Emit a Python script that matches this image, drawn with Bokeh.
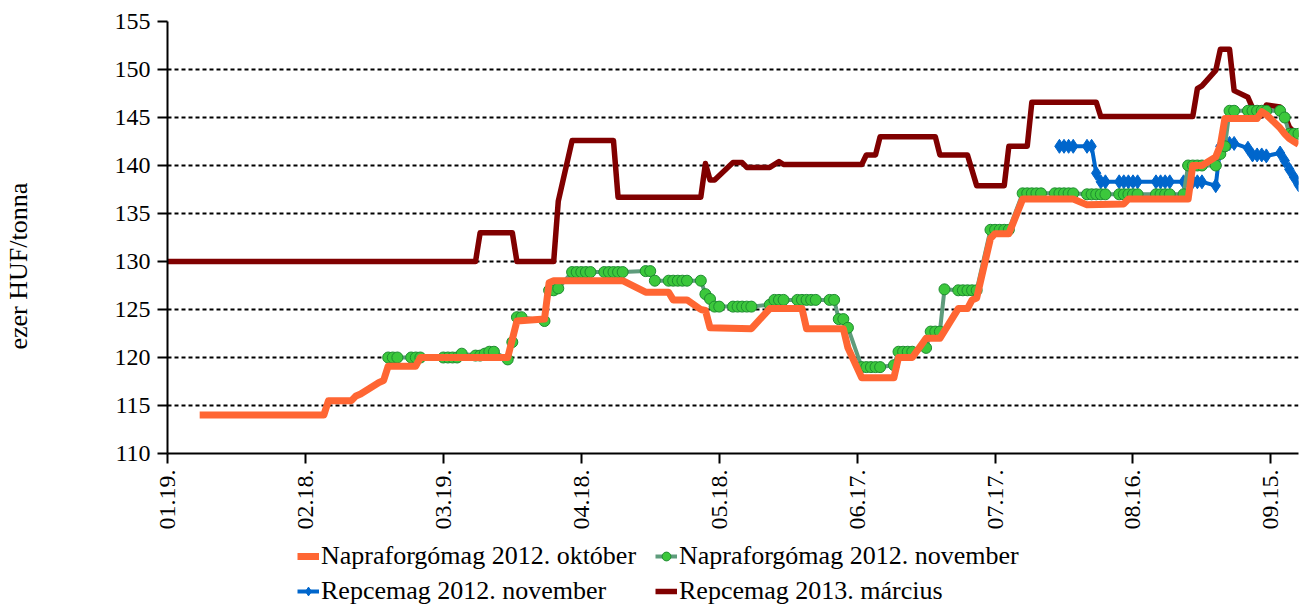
from math import pi
import pandas as pd
from bokeh.plotting import figure
from bokeh.layouts import row, column
from bokeh.models import Range1d, FixedTicker, Legend, LegendItem, Label
from bokeh.embed import file_html
from bokeh.resources import INLINE

YEAR = "2012-"

# ---------------- data ----------------
tick_dates = ["01-19", "02-18", "03-19", "04-18", "05-18", "06-17", "07-17", "08-16", "09-15"]
tick_labels = ["01.19.", "02.18.", "03.19.", "04.18.", "05.18.", "06.17.", "07.17.", "08.16.", "09.15."]
y_ticks = [110, 115, 120, 125, 130, 135, 140, 145, 150, 155]
y_title = "ezer HUF/tonna"

series_names = ["Napraforgómag 2012. október", "Napraforgómag 2012. november",
                "Repcemag 2012. november", "Repcemag 2013. március"]

orange_dates = ["01-26", "02-22", "02-23", "02-28", "02-29", "03-01", "03-05", "03-06", "03-07",
                "03-13", "03-14", "04-02", "04-04", "04-10", "04-11", "04-12", "04-27", "05-02",
                "05-07", "05-08", "05-11", "05-14", "05-15", "05-16", "05-25", "05-29", "06-05",
                "06-06", "06-14", "06-15", "06-18", "06-25", "06-26", "06-29", "07-02", "07-05",
                "07-09", "07-11", "07-12", "07-13", "07-16", "07-17", "07-20", "07-23", "08-03",
                "08-06", "08-14", "08-15", "08-28", "08-29", "08-31", "09-03", "09-04", "09-05",
                "09-12", "09-13", "09-14", "09-17", "09-18", "09-19", "09-20", "09-21"]
orange_values = [114.0, 114.0, 115.5, 115.5, 116.0, 116.2, 117.4, 117.6, 119.1,
                 119.1, 120.0, 120.0, 123.8, 124.0, 127.8, 128.0, 128.0, 126.8,
                 126.8, 126.0, 126.0, 125.0, 124.9, 123.1, 123.0, 125.1, 125.1,
                 123.0, 123.0, 121.0, 117.9, 117.9, 120.0, 120.0, 122.0, 122.0,
                 125.1, 125.1, 126.0, 126.2, 132.4, 132.9, 132.9, 136.5, 136.5,
                 135.9, 136.0, 136.5, 136.5, 140.0, 140.0, 140.9, 142.1, 144.9,
                 144.9, 145.6, 145.3, 143.9, 143.3, 142.8, 142.5, 142.2]

green_dates = ["03-07", "03-08", "03-09",
               "03-12", "03-13", "03-14",
               "03-19", "03-20", "03-21", "03-22", "03-23",
               "03-26", "03-27", "03-28", "03-29", "03-30",
               "04-02", "04-03", "04-04", "04-05",
               "04-10", "04-11", "04-12", "04-13",
               "04-16", "04-17", "04-18", "04-19", "04-20",
               "04-23", "04-24", "04-25", "04-26", "04-27",
               "05-02", "05-03", "05-04",
               "05-07", "05-08", "05-09", "05-10", "05-11",
               "05-14", "05-15", "05-16", "05-17", "05-18",
               "05-21", "05-22", "05-23", "05-24", "05-25",
               "05-29", "05-30", "05-31", "06-01",
               "06-04", "06-05", "06-06", "06-07", "06-08",
               "06-11", "06-12", "06-13", "06-14", "06-15",
               "06-18", "06-19", "06-20", "06-21", "06-22",
               "06-25", "06-26", "06-27", "06-28", "06-29",
               "07-02", "07-03", "07-04", "07-05", "07-06",
               "07-09", "07-10", "07-11", "07-12", "07-13",
               "07-16", "07-17", "07-18", "07-19", "07-20",
               "07-23", "07-24", "07-25", "07-26", "07-27",
               "07-30", "07-31", "08-01", "08-02", "08-03",
               "08-06", "08-07", "08-08", "08-09", "08-10",
               "08-13", "08-14", "08-15", "08-16", "08-17",
               "08-21", "08-22", "08-23", "08-24",
               "08-27", "08-28", "08-29", "08-30", "08-31",
               "09-03", "09-04", "09-05", "09-06", "09-07",
               "09-10", "09-11", "09-12", "09-13", "09-14",
               "09-17", "09-18", "09-19", "09-20", "09-21"]
green_values = [120.0, 120.0, 120.0,
                120.0, 120.0, 120.0,
                120.0, 120.0, 120.0, 120.0, 120.4,
                120.2, 120.2, 120.4, 120.6, 120.6,
                119.8, 121.6, 124.2, 124.2,
                123.8, 127.0, 127.0, 127.2,
                128.9, 128.9, 128.9, 128.9, 128.9,
                128.9, 128.9, 128.9, 128.9, 128.9,
                129.0, 129.0, 128.0,
                128.0, 128.0, 128.0, 128.0, 128.0,
                128.0, 126.6, 126.1, 125.3, 125.3,
                125.3, 125.3, 125.3, 125.3, 125.3,
                125.5, 126.0, 126.0, 126.0,
                126.0, 126.0, 126.0, 126.0, 126.0,
                126.0, 126.0, 124.0, 124.0, 123.1,
                119.0, 119.0, 119.0, 119.0, 119.0,
                119.2, 120.6, 120.6, 120.6, 120.6,
                121.0, 122.7, 122.7, 122.7, 127.1,
                127.0, 127.0, 127.0, 127.0, 127.0,
                133.3, 133.3, 133.3, 133.3, 133.3,
                137.1, 137.1, 137.1, 137.1, 137.1,
                137.1, 137.1, 137.1, 137.1, 137.1,
                137.0, 137.0, 137.0, 137.0, 137.0,
                137.0, 137.0, 137.0, 137.0, 137.0,
                137.0, 137.0, 137.0, 137.0,
                137.0, 140.0, 140.0, 140.0, 140.0,
                140.0, 141.2, 142.0, 145.7, 145.7,
                145.7, 145.7, 145.7, 145.7, 145.7,
                145.7, 145.0, 143.3, 143.3, 143.3]

blue_dates = ["07-31", "08-01", "08-02", "08-03",
              "08-06", "08-07", "08-08", "08-09", "08-10",
              "08-13", "08-14", "08-15", "08-16", "08-17",
              "08-21", "08-22", "08-23", "08-24",
              "08-27", "08-28", "08-29", "08-30", "08-31",
              "09-03", "09-04", "09-05", "09-06", "09-07",
              "09-10", "09-11", "09-12", "09-13", "09-14",
              "09-17", "09-18", "09-19", "09-20", "09-21"]
blue_values = [142.0, 142.0, 142.0, 142.0,
               142.0, 142.0, 139.2, 138.3, 138.3,
               138.3, 138.3, 138.3, 138.3, 138.3,
               138.3, 138.3, 138.3, 138.3,
               138.3, 138.3, 138.3, 138.3, 138.3,
               137.9, 142.0, 142.3, 142.3, 142.3,
               141.8, 141.1, 141.1, 141.1, 141.0,
               141.3, 140.5, 139.6, 138.8, 138.0]

red_dates = ["01-19", "03-26", "03-27", "04-03", "04-04", "04-12", "04-13", "04-16", "04-25",
             "04-26", "05-14", "05-15", "05-16", "05-17", "05-21", "05-23", "05-24", "05-29",
             "05-31", "06-01", "06-18", "06-19", "06-21", "06-22", "07-04", "07-05", "07-11",
             "07-13", "07-19", "07-20", "07-24", "07-25", "08-08", "08-09", "08-29", "08-30",
             "08-31", "09-03", "09-04", "09-06", "09-07", "09-10", "09-11", "09-12", "09-13",
             "09-14", "09-17", "09-18", "09-19", "09-20", "09-21"]
red_values = [130.0, 130.0, 133.0, 133.0, 130.0, 130.0, 136.3, 142.6, 142.6,
              136.7, 136.7, 140.2, 138.5, 138.5, 140.3, 140.3, 139.8, 139.8,
              140.4, 140.1, 140.1, 141.1, 141.1, 143.0, 143.0, 141.1, 141.1,
              137.9, 137.9, 142.0, 142.0, 146.6, 146.6, 145.1, 145.1, 148.0,
              148.3, 149.9, 152.1, 152.1, 147.8, 147.1, 146.0, 145.0, 145.2,
              146.3, 146.1, 145.2, 144.0, 143.5, 143.0]

x_start, x_end = "01-19", "09-21"


def to_dt(lst):
    return pd.to_datetime([YEAR + d for d in lst])


# ---------------- layout sizes ----------------
FONT = "Liberation Serif"
W, H = 1300, 605
W0 = 45                 # column holding the y-axis title
H1 = 535                # height of the chart row
H2 = H - H1             # height of the legend strip

COLORS = dict(orange="#ff6633", green_line="#5e9c7c", green_fill="#3cc83c", green_edge="#1e8c30",
              blue="#0066cc", red="#800000")

series = {
    "orange": (to_dt(orange_dates), orange_values),
    "green": (to_dt(green_dates), green_values),
    "blue": (to_dt(blue_dates), blue_values),
    "red": (to_dt(red_dates), red_values),
}

# ---------------- main chart ----------------
xs = pd.Timestamp(YEAR + x_start)
xe = pd.Timestamp(YEAR + x_end)

p = figure(width=W - W0, height=H1, x_axis_type="datetime",
           x_range=Range1d(xs, xe), y_range=Range1d(110, 155),
           output_backend="svg", toolbar_location=None,
           min_border_left=167 - W0, min_border_right=2, min_border_top=21,
           min_border_bottom=H1 - 453)
p.outline_line_color = None
p.background_fill_color = "white"
p.border_fill_color = "white"

p.xgrid.grid_line_color = None
p.ygrid.grid_line_color = "black"
p.ygrid.grid_line_dash = "4 3"
p.ygrid.grid_line_width = 2

tick_ms = [float(t.value // 10**6) for t in to_dt(tick_dates)]
p.xaxis.ticker = FixedTicker(ticks=tick_ms)
p.xaxis.major_label_overrides = {k: v for k, v in zip(tick_ms, tick_labels)}
p.xaxis.major_label_orientation = pi / 2
p.yaxis.ticker = FixedTicker(ticks=y_ticks)
for ax in (p.xaxis[0], p.yaxis[0]):
    ax.axis_line_color = "black"
    ax.axis_line_width = 2
    ax.major_tick_line_color = "black"
    ax.major_tick_line_width = 2
    ax.major_tick_out = 10
    ax.major_tick_in = 0
    ax.minor_tick_line_color = None
    ax.major_label_text_font = FONT
    ax.major_label_text_font_size = "24px"
    ax.major_label_text_color = "black"
p.xaxis.major_label_standoff = 6
p.yaxis.major_label_standoff = 7


def draw(fig, kind):
    """Draw one series from its data arrays; kind picks the style."""
    xd, yd = series[kind]
    if kind == "red":
        return [fig.line(xd, yd, line_color=COLORS["red"], line_width=5.5, line_join="round")]
    if kind == "blue":
        return [fig.line(xd, yd, line_color=COLORS["blue"], line_width=4),
                fig.scatter(xd, yd, marker="diamond", size=14,
                            fill_color=COLORS["blue"], line_color=COLORS["blue"])]
    if kind == "green":
        return [fig.line(xd, yd, line_color=COLORS["green_line"], line_width=4),
                fig.scatter(xd, yd, marker="circle", size=11, fill_color=COLORS["green_fill"],
                            line_color=COLORS["green_edge"], line_width=1)]
    return [fig.line(xd, yd, line_color=COLORS["orange"], line_width=7, line_join="round")]


for kind in ("red", "blue", "green", "orange"):
    draw(p, kind)

# ---------------- y-axis title column ----------------
t = figure(width=W0, height=H1, x_range=Range1d(0, W0), y_range=Range1d(0, H1),
           x_axis_location=None, y_axis_location=None, output_backend="svg",
           toolbar_location=None, min_border=0)
t.outline_line_color = None
t.grid.visible = False
t.add_layout(Label(x=18, y=H1 - 303, text=y_title, angle=pi / 2,
                   text_align="center", text_baseline="middle", text_font=FONT,
                   text_font_size="26px", text_color="black"))

# ---------------- legend strip (its renderers lie outside its visible range) ----------------
lg = figure(width=W, height=H2, x_range=Range1d(0, 1), y_range=Range1d(0, 1),
            x_axis_location=None, y_axis_location=None, output_backend="svg",
            toolbar_location=None, min_border=0)
lg.outline_line_color = None
lg.grid.visible = False
sample = {k: draw(lg, k) for k in ("orange", "green", "blue", "red")}

legend_style = dict(orientation="horizontal",
                    label_text_font=FONT, label_text_font_size="26px", label_text_color="black",
                    glyph_width=22, glyph_height=28, label_standoff=2, spacing=10,
                    padding=0, margin=0, label_width=324,
                    border_line_color=None, background_fill_alpha=0)
legend1 = Legend(items=[
    LegendItem(label=series_names[0], renderers=sample["orange"]),
    LegendItem(label=series_names[1], renderers=sample["green"]),
], location=(297, H2 - 6 - 30), **legend_style)
legend2 = Legend(items=[
    LegendItem(label=series_names[2], renderers=sample["blue"]),
    LegendItem(label=series_names[3], renderers=sample["red"]),
], location=(297, H2 - 41 - 30), **legend_style)
lg.add_layout(legend1)
lg.add_layout(legend2)

layout = column(row(t, p, spacing=0), lg, spacing=0)

open("out.html", "w").write(file_html(layout, INLINE))
